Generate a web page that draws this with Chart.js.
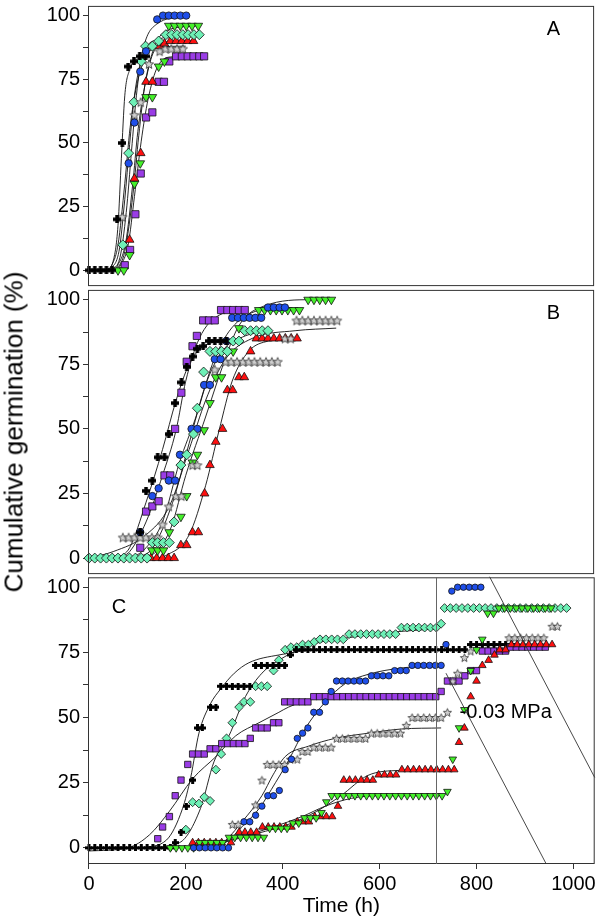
<!DOCTYPE html>
<html>
<head>
<meta charset="utf-8">
<script src="https://cdn.jsdelivr.net/npm/chart.js@4.4.1/dist/chart.umd.min.js"></script>
<style>
body { margin: 0; background: #fff; }
#wrap { position: relative; width: 600px; height: 922px; }
canvas { position: absolute; left: 0; }
#ylab {
    position: absolute; left: 14px; top: 432px;
    transform: translate(-50%, -50%) rotate(-90deg);
    white-space: nowrap;
    font: 26px "Liberation Sans", Arial, sans-serif;
    color: #000;
}
</style>
</head>
<body>
<div id="wrap">
  <canvas id="panelA" width="600" height="292" style="top:0px"></canvas>
  <canvas id="panelB" width="600" height="296" style="top:284px"></canvas>
  <canvas id="panelC" width="600" height="350" style="top:572px"></canvas>
  <div id="ylab">Cumulative germination (%)</div>
</div>
<script>
/* ======================
   DATA  [time (h), germination (%)]
====================== */
const timeTicks = [0, 200, 400, 600, 800, 1000];
const pctTicks = [0, 12.5, 25, 37.5, 50, 62.5, 75, 87.5, 100];

// panel A
const aBlack = [[0,0],[12,0],[24,0],[36,0],[48,0],[58,20],[69,50],[81,80],[93,82],[105,84],[117,84]];
const aBlue = [[82,42],[94,58],[106,78],[118,86],[141,98.5],[153,100],[165,100],[177,100],[189,100],[201,100]];
const aDiamond = [[70,10],[82,46],[93,66],[108,82],[117,88],[131,88],[144,90],[159,92.5],[171,92.5],[182,92.5],[194,92.5],[205,92.5],[217,92.5],[228,92.5]];
const aGreen = [[60,0],[72,0],[84,6],[94,34],[106,42],[118,68],[131,68],[144,80],[156,82],[165,96],[177,96],[189,96],[201,96],[213,96],[226,96]];
const aRed = [[84,12],[94,36],[107,46],[118,74],[131,74],[146,88],[156,89],[168,90],[180,90],[192,90],[204,90],[216,90]];
const aPurple = [[74,2],[85,8],[96,22],[107,38],[118,60],[131,62],[144,74],[155,74],[166,82],[180,84],[192,84],[204,84],[216,84],[228,84],[238,84]];
const aStar = [[69,21],[94,61],[107,66],[124,81],[146,86],[158,87],[170,87],[182,87],[194,87]];

const aBlackFit = [[36,0],[50,3.6],[60,17.6],[67,44],[74,68.5],[84,78.7],[101,83],[125,84]];
const aBlueFit = [[46,0],[64,5],[77,22.7],[88,47],[98,68.5],[111,86],[139,96.5],[200,99.7]];
const aDiamondFit = [[40,0],[62,7.4],[74,27.8],[84,49.4],[94,68.5],[108,82.5],[132,90],[228,92.5]];
const aStarFit = [[43,0],[60,10],[74,34],[85,56],[98,72],[118,84],[146,87.6],[200,88]];
const aGreenFit = [[57,0],[74,7.4],[91,30],[103,53],[115,72],[132,86],[159,94],[226,96]];
const aRedFit = [[55,0],[76,11],[90,33],[101,54.5],[115,72],[132,85],[159,89.6],[217,90]];
const aPurpleFit = [[60,0],[81,10],[94,29],[108,50.7],[122,67],[142,80],[173,83.8],[238,84]];

// panel B
const bDiamond = [[0,0],[12,0],[24,0],[36,0],[48,0],[60,0],[72,0],[84,0],[96,0],[108,0],[120,0],[131,6],[142,6],[154,6],[166,6],[176,14],[190,36],[202,40],[216,48],[224,58],[237,72],[250,80],[262,80],[274,80],[286,80],[298,84],[310,84],[322,88],[334,88],[346,88],[358,88],[370,88]];
const bBlack = [[106,10],[118,26],[131,30],[142,39],[156,39],[165,48],[178,60],[191,68],[202,74],[214,78],[224,81],[236,82],[248,84],[260,84],[272,84],[284,84]];
const bPurple = [[106,4],[118,18],[131,20],[144,22],[156,32],[168,32],[178,50],[191,64],[202,76],[214,82],[223,86],[236,92],[248,92],[260,92],[273,96],[286,96],[298,96],[310,96],[322,96]];
const bBlue = [[106,10],[131,24],[144,27],[165,30],[178,30],[188,40],[212,50],[224,50],[238,67],[250,67],[260,77],[272,77],[284,84],[296,93],[308,93],[320,93],[332,93],[344,93],[356,93],[370,97],[382,97],[394,97],[405,97]];
const bGreen = [[130,3],[142,3],[154,3],[166,10],[190,16],[202,24],[214,37],[224,40],[238,49.5],[250,60],[262,70],[274,70],[298,80],[310,89],[351,96],[363,96],[375,96],[387,96],[399,96],[411,96],[423,96],[435,96],[453,100],[465,100],[477,100],[489,100],[501,100]];
const bRed = [[128,0],[140,0],[152,0],[164,0],[176,0],[190,5],[202,5],[214,10],[226,10],[239,25],[250,36],[262,45],[276,50],[286,65],[297,65],[310,70],[321,70],[334,80],[346,85],[358,85],[370,85],[382,85],[394,85],[406,85],[418,85],[430,85]];
const bStar = [[70,8],[82,8],[94,8],[106,8],[118,8],[130,8],[142,8],[152,13],[165,20],[180,24],[191,24],[214,36],[224,36],[260,73],[282,76],[294,76],[306,76],[318,76],[330,76],[342,76],[354,76],[366,76],[378,76],[390,76],[405,85],[417,85],[429,92],[441,92],[453,92],[465,92],[477,92],[489,92],[501,92],[513,92]];

const bPurpleFit = [[60,0],[84,2.5],[118,14],[152,32],[180,49.5],[200,68.5],[228,85],[269,94],[323,96]];
const bBlackFit = [[60,0],[84,4],[118,21.6],[152,42],[180,61],[207,75],[241,82.5],[284,84]];
const bBlueFit = [[90,0],[118,4],[152,14],[187,37],[221,54.6],[255,75],[289,87.6],[337,95],[405,97]];
const bDiamondFit = [[100,0],[132,4],[173,21.6],[207,44.4],[241,67],[275,80],[323,86],[371,88]];
const bGreenFit = [[110,0],[139,2.5],[170,12],[200,32],[241,54.6],[275,73.6],[310,90],[364,97.7],[460,100],[501,100]];
const bStarFit = [[0,0],[50,2.5],[118,9],[166,20],[207,42],[241,61],[282,77],[337,85],[426,88],[511,89]];
const bRedFit = [[140,0],[159,1],[207,9],[241,28],[269,49.5],[296,68.5],[330,80],[371,84],[433,85]];

// panel C
const cBlack = [[0,0],[12,0],[24,0],[36,0],[48,0],[60,0],[72,0],[84,0],[96,0],[108,0],[120,0],[132,0],[144,0],[156,0],[168,0],[178,2],[190,6],[201,16],[214,26],[224,46],[234,46],[251,54],[262,54],[272,62],[284,62],[296,62],[308,62],[320,62],[332,62],[344,70],[356,70],[368,70],[380,70],[392,70],[404,70],[416,74],[428,76],[440,76],[452,76],[464,76],[476,76],[488,76],[500,76],[512,76],[524,76],[536,76],[548,76],[560,76],[572,76],[584,76],[596,76],[608,76],[620,76],[632,76],[644,76],[656,76],[668,76],[680,76],[692,76],[704,76],[716,76],[728,76],[740,76],[752,76],[764,76],[776,76],[788,78],[800,78],[812,78],[824,78],[836,78],[848,78],[860,78],[872,78]];
const cDiamond = [[200,7],[214,17.5],[227,17],[238,19.5],[250,18],[262,30],[273,36],[284,42],[296,48],[310,54],[320,56],[333,56],[344,62],[356,62],[368,62],[381,68],[392,72],[405,76],[417,77],[429,77],[441,78],[453,78],[465,79],[477,80],[489,80],[501,80],[513,80],[525,80],[537,82],[549,82],[561,82],[573,82],[585,82],[597,82],[609,82],[621,82],[633,82],[645,84.5],[657,84.5],[669,84.5],[681,84.5],[693,84.5],[705,84.5],[717,84.5],[727,86],[734,92],[746,92],[758,92],[770,92],[782,92],[794,92],[806,92],[818,92],[830,92],[842,92],[854,92],[866,92],[878,92],[890,92],[902,92],[914,92],[926,92],[938,92],[950,92],[962,92],[974,92],[986,92]];
const cBlue = [[216,0],[228,0],[240,0],[252,0],[264,0],[276,0],[288,0],[320,10],[332,10],[344,12.5],[357,16],[369,20],[381,20],[393,22],[405,30],[418,34],[430,42],[441,44],[452,46],[464,52],[476,52],[488,56],[500,60],[511,64],[523,64],[535,64],[547,64],[559,64],[571,64],[583,66],[595,66],[607,66],[619,66],[631,68],[643,68],[655,68],[667,70],[679,70],[691,70],[703,70],[715,70],[727,70],[737,78],[749,98.5],[761,100],[773,100],[785,100],[797,100],[809,100]];
const cPurple = [[142,3.5],[152,8],[166,12],[178,20],[190,26],[204,32],[214,36],[226,36],[238,36],[250,38],[262,38],[274,40],[286,40],[298,40],[310,40],[322,40],[333,42],[344,46],[356,46],[368,46],[381,48],[392,48],[404,56],[416,56],[428,56],[440,56],[452,56],[464,58],[476,58],[488,58],[500,58],[512,58],[524,58],[536,58],[548,58],[560,58],[572,58],[584,58],[596,58],[608,58],[620,58],[632,58],[644,58],[656,58],[668,58],[680,58],[692,58],[704,58],[716,58],[727,60],[740,64],[752,64],[764,64],[776,66],[788,68],[800,68],[812,75.5],[824,75.5],[836,75.5],[848,75.5],[860,75.5],[870,77],[882,77],[894,77],[906,77],[918,77],[930,77],[942,77]];
const cRed = [[214,2],[226,2],[238,2],[250,2],[262,2],[274,2],[293,2],[310,6],[322,6],[334,6],[346,6],[358,8],[370,8],[382,8],[394,8],[406,8],[418,8],[430,10],[442,10],[454,10],[466,12],[478,12],[490,12],[502,12],[514,16],[526,26],[538,26],[550,26],[562,26],[574,26],[586,26],[598,28],[610,28],[622,28],[634,28],[646,30],[658,30],[670,30],[682,30],[694,30],[706,30],[718,30],[730,30],[742,30],[754,30],[764,40.5],[775,46],[788,58],[800,64],[812,70],[825,72],[837,74],[848,76],[860,76],[872,78],[884,78],[896,78],[908,78],[920,78],[932,78],[944,78],[956,78]];
const cGreen = [[168,0],[180,0],[192,0],[204,0],[216,0],[228,2],[240,2],[252,2],[264,2],[276,2],[289,4],[301,4],[313,4],[325,4],[337,4],[349,4],[361,4],[373,7.5],[385,7.5],[397,7.5],[409,7.5],[421,9.5],[433,9.5],[445,11.5],[457,11.5],[469,11.5],[480,13.5],[490,17.6],[501,20],[513,20],[525,20],[537,20],[549,20],[561,20],[573,20],[585,20],[597,20],[609,20],[621,20],[633,20],[645,20],[657,20],[669,20],[681,20],[693,20],[705,20],[717,20],[729,20],[740,21.6],[751,34],[764,46],[775,53],[788,68],[800,76],[812,80],[823,90],[835,90],[846,92],[858,92],[870,92],[882,92],[894,92],[906,92],[918,92],[930,92],[942,92],[954,92]];
const cStar = [[296,9],[308,9],[344,16.5],[357,26],[368,32],[380,32],[392,32],[404,32],[416,34],[430,34],[440,37],[452,37],[464,38.6],[476,38.6],[488,38.6],[500,38.6],[511,42],[523,42],[535,42],[547,42],[559,42],[571,42],[583,44],[595,44],[607,44],[619,44],[631,44],[643,44],[655,47],[667,50],[679,50],[691,50],[703,50],[715,50],[727,50],[740,52],[751,64],[761,67],[775,73],[788,75.5],[867,80.6],[879,80.6],[891,80.6],[903,80.6],[915,80.6],[927,80.6],[939,80.6],[956,85],[967,85]];

const cBlackFit = [[110,0],[160,3],[193,15],[210,27],[227,44],[250,55],[272,61],[300,67],[330,71],[392,74],[480,76],[720,76]];
const cDiamondFit = [[120,0],[187,2],[230,15],[258,33],[289,43],[323,58],[357,67],[392,72],[460,78],[550,81],[640,83],[720,84]];
const cPurpleFit = [[0,-1.2],[80,0],[125,5],[166,14],[214,26.5],[262,35],[303,43],[351,48],[392,52],[412,54],[460,57],[520,58],[720,58.5]];
const cBlueFit = [[250,0],[290,3],[310,7],[351,15],[385,25],[412,33.5],[446,45.6],[488,56],[529,63],[577,66.6],[645,69],[727,70]];
const cStarFit = [[240,0],[276,2],[316,10],[357,20],[380,28],[405,35],[453,39],[508,42],[577,44],[645,45.6],[727,46]];
const cRedFit = [[200,0],[279,2.3],[347,5.5],[416,9.3],[470,14],[520,20],[576,27.8],[640,29.7],[727,30]];
const cGreenFit = [[180,0],[250,1.5],[300,3.5],[380,8],[440,12],[488,16],[542,19],[600,20],[727,20]];

// inset frame lines in panel C, in data units
const insetEdge = 716;
const insetDiag1 = [[827,104],[1044,27]];
const insetDiag2 = [[737,67],[944,-6.2]];

/* ======================
   MARKERS
====================== */
function plusMark(size, bar) {
    const c = document.createElement("canvas");
    c.width = c.height = size;
    const g = c.getContext("2d");
    const o = (size - bar) / 2;
    g.fillStyle = "#000";
    g.fillRect(o, 0, bar, size);
    g.fillRect(0, o, size, bar);
    return c;
}

function starMark(r) {
    const s = Math.ceil(r * 2 + 2);
    const c = document.createElement("canvas");
    c.width = c.height = s;
    const g = c.getContext("2d");
    g.beginPath();
    for (let i = 0; i < 10; i++) {
        const rr = i % 2 ? r * 0.45 : r;
        const a = -Math.PI / 2 + i * Math.PI / 5;
        g.lineTo(s / 2 + rr * Math.cos(a), s / 2 + 0.5 + rr * Math.sin(a));
    }
    g.closePath();
    g.fillStyle = "#cfcfcf";
    g.fill();
    g.strokeStyle = "#333";
    g.lineWidth = 0.8;
    g.stroke();
    return c;
}

const big = { plus: plusMark(8, 3.5), star: starMark(4.8), circle: 3.7, rect: 5.1, tri: 5, dia: 5 };
const small = { plus: plusMark(7, 3), star: starMark(4.3), circle: 3.2, rect: 4.5, tri: 4.4, dia: 4.4 };

function markers(data, kind, sz) {
    const ds = {
        data: data.map(p => ({ x: p[0], y: p[1] })),
        showLine: false,
        clip: false,
        borderColor: "#111",
        borderWidth: 0.8
    };
    if (kind === "plus") { ds.pointStyle = sz.plus; ds.pointRadius = 4; }
    if (kind === "star") { ds.pointStyle = sz.star; ds.pointRadius = 4; }
    if (kind === "circle") { ds.pointStyle = "circle"; ds.pointRadius = sz.circle; ds.backgroundColor = "#1f4fea"; }
    if (kind === "square") { ds.pointStyle = "rect"; ds.pointRadius = sz.rect; ds.backgroundColor = "#9a3ce6"; }
    if (kind === "up") { ds.pointStyle = "triangle"; ds.pointRadius = sz.tri; ds.backgroundColor = "#ff1010"; }
    if (kind === "down") { ds.pointStyle = "triangle"; ds.rotation = 180; ds.pointRadius = sz.tri; ds.backgroundColor = "#44f02a"; }
    if (kind === "diamond") { ds.pointStyle = "rectRot"; ds.pointRadius = sz.dia; ds.backgroundColor = "#6ef0b6"; }
    return ds;
}

function fitLine(data) {
    return {
        data: data.map(p => ({ x: p[0], y: p[1] })),
        showLine: true,
        pointRadius: 0,
        borderColor: "#111",
        borderWidth: 0.9,
        cubicInterpolationMode: "monotone",
        fill: false
    };
}

/* ======================
   FRAME / LABELS PLUGIN
====================== */
const panelFrame = {
    id: "panelFrame",
    afterDatasetsDraw(chart, args, opts) {
        const { ctx, chartArea: a } = chart;
        const x = chart.scales.x, y = chart.scales.y;
        ctx.save();
        ctx.strokeStyle = "#333";
        ctx.lineWidth = 1;
        ctx.strokeRect(a.left + 0.5, a.top + 0.5, a.width - 1, a.height - 1);

        if (opts.inset) {
            ctx.strokeStyle = "#666";
            const ex = Math.round(x.getPixelForValue(insetEdge)) + 0.5;
            ctx.beginPath();
            ctx.moveTo(ex, a.top);
            ctx.lineTo(ex, a.bottom);
            ctx.stroke();
            ctx.strokeStyle = "#333";
            ctx.lineWidth = 0.9;
            [insetDiag1, insetDiag2].forEach(d => {
                ctx.beginPath();
                ctx.moveTo(x.getPixelForValue(d[0][0]), y.getPixelForValue(d[0][1]));
                ctx.lineTo(x.getPixelForValue(d[1][0]), y.getPixelForValue(d[1][1]));
                ctx.stroke();
            });
            ctx.fillStyle = "#000";
            ctx.font = '20px "Liberation Sans", Arial, sans-serif';
            ctx.textAlign = "left";
            ctx.textBaseline = "middle";
            ctx.fillText("-0.03 MPa", x.getPixelForValue(765), y.getPixelForValue(52));
        }

        ctx.fillStyle = "#000";
        ctx.font = '20px "Liberation Sans", Arial, sans-serif';
        ctx.textAlign = "center";
        ctx.textBaseline = "middle";
        ctx.fillText(opts.letter, x.getPixelForValue(opts.at[0]), y.getPixelForValue(opts.at[1]));
        ctx.restore();
    }
};

/* ======================
   CHARTS
====================== */
Chart.defaults.font.family = '"Liberation Sans", Arial, sans-serif';
Chart.defaults.font.size = 20;
Chart.defaults.color = "#000";

function yAxis() {
    return {
        min: -6.2,
        max: 103.8,
        afterFit: s => { s.width = 88; s.paddingTop = 0; s.paddingBottom = 0; },
        afterBuildTicks: s => { s.ticks = pctTicks.map(v => ({ value: v })); },
        border: { display: false },
        grid: { drawOnChartArea: false, tickLength: 5, color: "#333" },
        ticks: { padding: 3, autoSkip: false, callback: v => (v % 25 === 0 ? String(v) : "") }
    };
}

function xAxis(show) {
    return {
        type: "linear",
        min: -2,
        max: 1044,
        display: show,
        afterFit: s => { s.height = show ? 58 : 0; s.paddingLeft = 0; s.paddingRight = 0; },
        afterBuildTicks: s => { s.ticks = timeTicks.map(v => ({ value: v })); },
        border: { display: false },
        grid: { drawOnChartArea: false, tickLength: 5, color: "#333" },
        ticks: { padding: 3, maxRotation: 0, autoSkip: false, callback: v => String(v) },
        title: { display: true, text: "Time (h)", font: { size: 21 }, padding: { top: 0, bottom: 3 } }
    };
}

function makePanel(id, datasets, pad, showX, frame) {
    return new Chart(document.getElementById(id), {
        type: "scatter",
        data: { datasets: datasets },
        options: {
            responsive: false,
            animation: false,
            devicePixelRatio: 1,
            events: [],
            layout: { padding: pad },
            scales: { x: xAxis(showX), y: yAxis() },
            plugins: {
                legend: { display: false },
                tooltip: { enabled: false },
                panelFrame: frame
            }
        },
        plugins: [panelFrame]
    });
}

makePanel("panelA", [
    markers(aBlue, "circle", big),
    markers(aBlack, "plus", big),
    markers(aStar, "star", big),
    markers(aDiamond, "diamond", big),
    markers(aRed, "up", big),
    markers(aGreen, "down", big),
    markers(aPurple, "square", big),
    fitLine(aBlackFit), fitLine(aBlueFit), fitLine(aDiamondFit), fitLine(aStarFit),
    fitLine(aGreenFit), fitLine(aRedFit), fitLine(aPurpleFit)
], { top: 1, right: 2, bottom: 4, left: 0 }, false, { letter: "A", at: [960, 94.6] });

makePanel("panelB", [
    markers(bDiamond, "diamond", big),
    markers(bBlack, "plus", big),
    markers(bBlue, "circle", big),
    markers(bPurple, "square", big),
    markers(bStar, "star", big),
    markers(bGreen, "down", big),
    markers(bRed, "up", big),
    fitLine(bPurpleFit), fitLine(bBlackFit), fitLine(bBlueFit), fitLine(bDiamondFit),
    fitLine(bGreenFit), fitLine(bStarFit), fitLine(bRedFit)
], { top: 4, right: 2, bottom: 4, left: 0 }, false, { letter: "B", at: [960, 94.6] });

makePanel("panelC", [
    markers(cBlue, "circle", small),
    markers(cGreen, "down", small),
    markers(cRed, "up", small),
    markers(cStar, "star", small),
    markers(cPurple, "square", small),
    markers(cBlack, "plus", small),
    markers(cDiamond, "diamond", small),
    fitLine(cBlackFit), fitLine(cDiamondFit), fitLine(cPurpleFit), fitLine(cBlueFit),
    fitLine(cStarFit), fitLine(cRedFit), fitLine(cGreenFit)
], { top: 4, right: 2, bottom: 0, left: 0 }, true, { letter: "C", at: [62, 92.4], inset: true });
</script>
</body>
</html>
